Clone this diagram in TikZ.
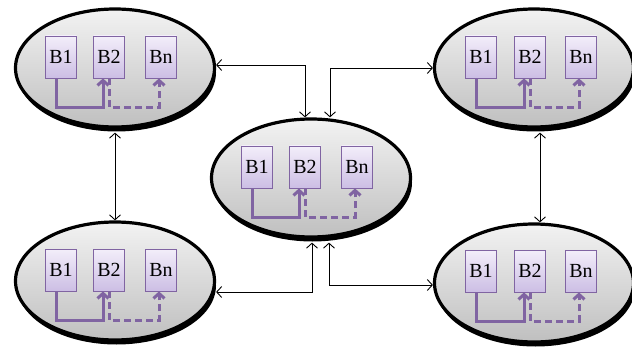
\documentclass[tikz,border=0pt]{standalone}
\usepackage{fontspec}
\setmainfont{Liberation Serif}
\usetikzlibrary{shapes.geometric, arrows.meta, shadows}
\definecolor{boxline}{RGB}{128,100,162}
\definecolor{boxtop}{RGB}{243,238,250}
\definecolor{boxbot}{RGB}{204,190,228}
\tikzset{
    cell/.style={ellipse, draw=black, line width=3.2pt, minimum width=199pt, minimum height=118pt,
        top color=black!5, bottom color=black!25,
        drop shadow={shadow xshift=1.5pt, shadow yshift=-4.5pt, fill=black, opacity=1}},
    blk/.style={rectangle, draw=boxline, line width=0.8pt, top color=boxtop, bottom color=boxbot,
        minimum width=31pt, minimum height=42pt, inner sep=0pt, font=\fontsize{20}{22}\selectfont},
    flow/.style={boxline, line width=3pt, -{Straight Barb[length=5pt, width=11pt]}},
    hop/.style={boxline, line width=3pt, dash pattern=on 7pt off 4pt, -{Straight Barb[length=5pt, width=11pt]}},
    link/.style={black, line width=0.9pt, {Straight Barb[length=5pt, width=11pt]}-{Straight Barb[length=5pt, width=11pt]}}
}

\begin{document}
\begin{tikzpicture}[x=1pt, y=-1pt]
    \useasboundingbox (0,0) rectangle (632,350);

    % top left
    \node [cell] (tl) at (115,68) {};
    \node [blk] (tl1) at (61,57) {B1};
    \node [blk] (tl2) at (109,57) {B2};
    \node [blk] (tln) at (161,57) {Bn};
    \draw [flow] ([xshift=-5pt]tl1.south) -- ++(0,29) -| ([xshift=-6pt]tl2.south);
    \draw [hop] ([xshift=0pt]tl2.south) -- ++(0,29) -| ([xshift=-2pt]tln.south);

    % top right
    \node [cell] (tr) at (534,68) {};
    \node [blk] (tr1) at (481,57) {B1};
    \node [blk] (tr2) at (530,57) {B2};
    \node [blk] (trn) at (581,57) {Bn};
    \draw [flow] ([xshift=-5pt]tr1.south) -- ++(0,29) -| ([xshift=-6pt]tr2.south);
    \draw [hop] ([xshift=0pt]tr2.south) -- ++(0,29) -| ([xshift=-2pt]trn.south);

    % centre
    \node [cell] (ce) at (311,178) {};
    \node [blk] (ce1) at (257,167) {B1};
    \node [blk] (ce2) at (305,167) {B2};
    \node [blk] (cen) at (357,167) {Bn};
    \draw [flow] ([xshift=-5pt]ce1.south) -- ++(0,29) -| ([xshift=-6pt]ce2.south);
    \draw [hop] ([xshift=0pt]ce2.south) -- ++(0,29) -| ([xshift=-2pt]cen.south);

    % bottom left
    \node [cell] (bl) at (115,281) {};
    \node [blk] (bl1) at (61,270) {B1};
    \node [blk] (bl2) at (109,270) {B2};
    \node [blk] (bln) at (161,270) {Bn};
    \draw [flow] ([xshift=-5pt]bl1.south) -- ++(0,29) -| ([xshift=-6pt]bl2.south);
    \draw [hop] ([xshift=0pt]bl2.south) -- ++(0,29) -| ([xshift=-2pt]bln.south);

    % bottom right
    \node [cell] (br) at (534,283) {};
    \node [blk] (br1) at (481,271) {B1};
    \node [blk] (br2) at (530,271) {B2};
    \node [blk] (brn) at (581,271) {Bn};
    \draw [flow] ([xshift=-5pt]br1.south) -- ++(0,29) -| ([xshift=-6pt]br2.south);
    \draw [hop] ([xshift=0pt]br2.south) -- ++(0,29) -| ([xshift=-2pt]brn.south);

    % links
    \draw [link] ([yshift=3pt]tl.east) -| ([xshift=-6pt]ce.north);
    \draw [link] (tr.west) -| ([xshift=19pt]ce.north);
    \draw [link] ([yshift=-4pt]tl.south) -- (bl.north);
    \draw [link] ([xshift=6pt, yshift=-4pt]tr.south) -- ([xshift=6pt]br.north);
    \draw [link] ([xshift=1pt, yshift=-4pt]ce.south) |- ([yshift=-11pt]bl.east);
    \draw [link] ([xshift=18pt, yshift=-4pt]ce.south) |- ([yshift=-2pt]br.west);
\end{tikzpicture}
\end{document}
